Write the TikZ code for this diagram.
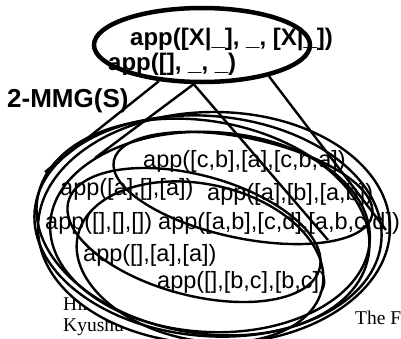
\documentclass[tikz,border=0pt]{standalone}
\usepackage{fontspec}
\setmainfont{Liberation Serif}
\newfontfamily\appfont{Liberation Sans}
\usetikzlibrary{shapes.geometric}

\begin{document}
\begin{tikzpicture}[
  x=1pt, y=-1pt,
  genbox/.style={ellipse, draw, line width=4.5pt, minimum width=216pt,
                 minimum height=74pt, inner sep=0pt},
  gentxt/.style={anchor=base west, inner sep=0pt,
                 font=\appfont\bfseries\fontsize{24}{26}\selectfont},
  atom/.style={anchor=base west, inner sep=0pt,
               font=\appfont\fontsize{23.5}{25}\selectfont},
  foot/.style={anchor=base west, inner sep=0pt,
               font=\fontsize{19.5}{21}\selectfont},
  setline/.style={line width=2.4pt},
  arr/.style={line width=2.4pt}
]
  \useasboundingbox (0,0) rectangle (401,338);

  % footer of the slide, partly hidden by the sets
  \node[foot] (auth) at (63,310) {Hiro};
  \node[foot] (univ) at (63,331) {Kyushu Un};
  \node[foot] (conf) at (355,324) {The F};

  % the sets
  \filldraw[setline, fill=white] (214,228) ellipse [x radius=176, y radius=116];
  \draw[setline, rotate around={-5:(208,226)}] (208,226) ellipse [x radius=174, y radius=110];
  \draw[setline, rotate around={-10:(203,227)}] (203,227) ellipse [x radius=168, y radius=106];
  \draw[setline, rotate around={-3:(210,232)}] (210,232) ellipse [x radius=160, y radius=100];
  \draw[setline, rotate around={-12:(243,188)}] (243,188) ellipse [x radius=132, y radius=50];
  \draw[setline, rotate around={-15:(194,235)}] (194,235) ellipse [x radius=130, y radius=60];
  \draw[setline, rotate around={-12:(200,262)}] (200,262) ellipse [x radius=125, y radius=78];

  % generalization
  \node[genbox] (gen) at (202,45) {};
  \node[gentxt] (genA) at (130,45) {app([X|\_], \_, [X|\_])};
  \node[gentxt] (genB) at (108,70) {app([], \_, \_)};

  \node[anchor=base west, inner sep=0pt,
        font=\appfont\bfseries\fontsize{26}{28}\selectfont] (mmg) at (7,107) {2-MMG(S)};

  % ground atoms
  \node[atom] (cba)  at (143,167) {app([c,b],[a],[c,b,a])};
  \node[atom] (aea)  at (60,195)  {app([a],[],[a])};
  \node[atom] (abab) at (207,200) {app([a],[b],[a,b])};
  \node[atom] (eee)  at (45,229)  {app([],[],[])};
  \node[atom] (abcd) at (158,229) {app([a,b],[c,d],[a,b,c,d])};
  \node[atom] (eaa)  at (83,261)  {app([],[a],[a])};
  \node[atom] (ebc)  at (157,288) {app([],[b,c],[b,c])};

  \coordinate (e1) at (45,172);
  \coordinate (e2) at (95,158);
  \coordinate (e3) at (328,240);
  \coordinate (e4) at (386,230);

  \draw[arr] (gen.220) -- (e1);
  \draw[arr] (gen.258) -- (e2);
  \draw[arr] (gen.258) -- (e3);
  \draw[arr] (gen.335) -- (e4);
\end{tikzpicture}
\end{document}
